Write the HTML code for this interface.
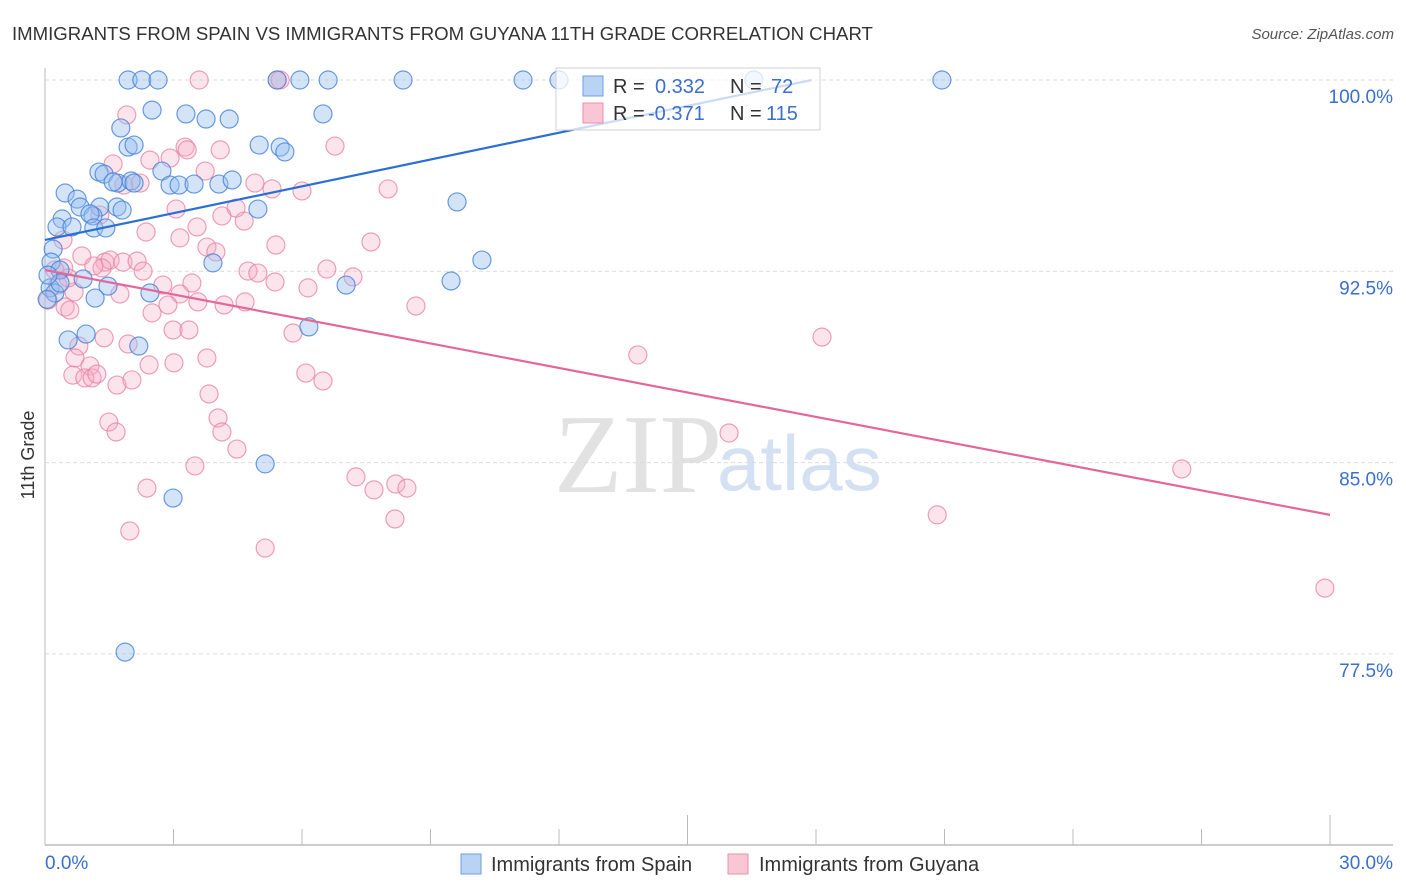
<!DOCTYPE html>
<html><head><meta charset="utf-8"><style>
body{margin:0;background:#fff;font-family:"Liberation Sans",sans-serif}
#wrap{position:relative;width:1406px;height:892px;overflow:hidden}
</style></head><body>
<div id="wrap">
<svg id="svg" width="1406" height="892" xmlns="http://www.w3.org/2000/svg">
<text x="12" y="40" font-size="18.6" fill="#333">IMMIGRANTS FROM SPAIN VS IMMIGRANTS FROM GUYANA 11TH GRADE CORRELATION CHART</text>
<text x="1394" y="39" font-size="15" fill="#555" font-style="italic" text-anchor="end">Source: ZipAtlas.com</text>
<text x="554" y="492" font-size="112" fill="#e2e2e2" font-family="Liberation Serif,serif">ZIP</text>
<text x="717" y="490" font-size="78" fill="#d3e1f3">atlas</text>
<g id="grid"></g>
<g id="axes"></g>
<g id="pts"></g>
<g id="trends"></g>
<text transform="translate(34,455) rotate(-90)" font-size="18" fill="#333" text-anchor="middle">11th Grade</text>
<text x="45" y="869" font-size="19" fill="#3a6fcf">0.0%</text>
<text x="1393" y="869" font-size="19" fill="#3a6fcf" text-anchor="end">30.0%</text>
<g>
<rect x="556" y="68" width="264" height="62" fill="rgba(255,255,255,0.75)" stroke="#d0d0d0"/>
<rect x="583" y="76" width="20" height="20" fill="#b9d3f5" stroke="#6f9ce0"/>
<text x="613" y="93" font-size="20" fill="#333">R = <tspan x="655" fill="#3a6fcf">0.332</tspan><tspan x="730">N = </tspan><tspan x="771" fill="#3a6fcf">72</tspan></text>
<rect x="583" y="103" width="20" height="20" fill="#f9c6d5" stroke="#ea8fab"/>
<text x="613" y="120" font-size="20" fill="#333">R = <tspan x="648" fill="#3a6fcf">-0.371</tspan><tspan x="730">N = </tspan><tspan x="766" fill="#3a6fcf">115</tspan></text>
</g>
<g>
<rect x="461" y="854" width="20" height="20" fill="#b9d3f5" stroke="#6f9ce0"/>
<text x="491" y="871" font-size="20" fill="#333">Immigrants from Spain</text>
<rect x="728" y="854" width="20" height="20" fill="#f9c6d5" stroke="#ea8fab"/>
<text x="759" y="871" font-size="20" fill="#333">Immigrants from Guyana</text>
</g>
</svg>
</div>
<script>
const yTicks=[100,92.5,85,77.5];
const yTickLabels=["100.0%","92.5%","85.0%","77.5%"];
const xTicks=[0,3,6,9,12,15,18,21,24,27,30];
const spainX=[1.94,2.26,2.64,5.42,5.95,6.61,8.36,11.16,12.0,16.55,20.94,2.50,3.29,3.76,4.30,6.49,1.77,1.94,2.08,5.0,5.49,5.60,1.26,1.38,1.70,1.59,2.01,2.73,2.92,3.13,3.48,4.06,4.37,0.47,0.75,0.82,1.28,1.68,1.12,1.05,0.40,0.28,0.63,1.14,1.42,4.97,9.62,0.19,0.14,0.35,0.89,1.47,2.45,3.92,7.03,9.48,10.20,0.12,0.23,1.17,0.54,0.96,2.19,6.16,5.14,2.99,1.87,0.35,0.07,1.80,2.08,0.05];
const spainY=[100,100,100,100,100,100,100,100,100,100,100,98.82,98.67,98.47,98.47,98.67,98.12,97.37,97.45,97.45,97.37,97.18,96.39,96.31,95.96,96.0,96.04,96.43,95.88,95.88,95.92,95.92,96.08,95.57,95.33,95.02,95.02,95.02,94.67,94.75,94.55,94.24,94.24,94.20,94.20,94.94,95.22,93.37,92.86,92.55,92.20,91.92,91.65,92.83,91.96,92.12,92.94,91.85,91.65,91.45,89.81,90.04,89.57,90.32,84.95,83.61,77.57,92.04,92.35,94.90,95.96,91.4];
const guyanaX=[3.60,5.42,5.49,1.91,1.59,2.45,2.92,3.27,3.32,4.09,3.74,6.77,2.22,1.84,4.90,5.30,6.0,8.01,3.06,4.46,4.13,1.28,4.65,2.36,3.55,0.42,3.15,5.39,7.61,3.78,3.99,0.86,1.40,1.52,1.82,2.15,1.33,1.14,2.29,4.74,4.97,6.58,7.19,0.44,0.23,2.75,3.43,5.37,6.14,0.68,1.75,3.15,0.47,0.58,2.50,2.87,3.57,4.18,4.67,8.66,2.99,3.36,5.79,1.38,0.79,1.94,0.70,1.05,2.43,3.01,3.78,0.65,0.93,1.10,1.21,1.68,2.03,3.83,6.09,6.49,13.84,18.14,4.04,4.13,1.49,1.66,4.48,3.50,2.38,7.26,7.68,8.19,8.45,15.97,26.54,8.17,20.83,1.98,5.14,29.88,0.07,0.30,0.54];
const guyanaY=[100,100,100,98.63,96.71,96.86,96.94,97.37,97.26,97.26,96.43,97.41,95.96,95.88,95.96,95.73,95.65,95.73,94.94,94.98,94.67,94.71,94.47,94.04,94.24,93.73,93.81,93.53,93.65,93.45,93.26,93.10,92.86,92.94,92.86,92.90,92.63,92.71,92.51,92.51,92.43,92.59,92.28,92.63,92.55,91.96,92.04,92.08,91.85,91.69,91.61,91.61,91.10,90.98,90.87,91.18,91.30,91.18,91.30,91.14,90.20,90.20,90.08,89.89,89.57,89.65,89.10,88.79,88.83,88.91,89.10,88.43,88.32,88.32,88.47,88.04,88.24,87.69,88.51,88.20,89.22,89.92,86.75,86.20,86.59,86.20,85.53,84.87,84.0,84.44,83.93,84.16,84.0,86.16,84.75,82.79,82.95,82.32,81.65,80.08,91.37,91.96,92.24];
const spainTrendX=[0,17.9];
const spainTrendY=[93.73,100];
const guyanaTrendX=[0,30];
const guyanaTrendY=[92.55,82.95];

const NS="http://www.w3.org/2000/svg";
const X0=45,X1=1330,Y100=80,PX_PER=191.3/7.5;
function sx(v){return X0+(v/30)*(X1-X0);}
function sy(v){return Y100+(100-v)*PX_PER;}
function mk(tag,attrs,parent){const e=document.createElementNS(NS,tag);for(const k in attrs)e.setAttribute(k,attrs[k]);document.getElementById(parent).appendChild(e);return e;}

yTicks.forEach((t,i)=>{
  const l=mk('line',{x1:X0,x2:1393,y1:sy(t),y2:sy(t),stroke:'#dcdcdc','stroke-dasharray':'4,3'},'grid');
  
  
  const tx=mk('text',{x:1393,y:sy(t)+23,'font-size':19,fill:'#3a6fcf','text-anchor':'end'},'grid');
  tx.textContent=yTickLabels[i];
  
  
});
const ya=mk('line',{x1:X0,x2:X0,y1:68,y2:845,stroke:'#bbb'},'axes');


const xa=mk('line',{x1:X0,x2:1393,y1:845,y2:845,stroke:'#bbb','stroke-width':1.5},'axes');


xTicks.forEach(t=>{
  const tall=(t===15||t===30);
  const l=mk('line',{x1:sx(t),x2:sx(t),y1:845,y2:tall?815:829,stroke:'#bbb'},'axes');
  
  
});
function drawPts(xs,ys,fill,stroke,name){
  xs.forEach((v,i)=>{
    const c=mk('circle',{cx:sx(v),cy:sy(ys[i]),r:9,fill:fill,stroke:stroke,'stroke-width':1.2},'pts');
    
    
  });
}
drawPts(guyanaX,guyanaY,'rgba(246,172,196,0.32)','rgba(232,128,160,0.75)','point-guyana');
drawPts(spainX,spainY,'rgba(150,190,240,0.42)','rgba(70,130,215,0.8)','point-spain');
const t1=mk('line',{x1:sx(spainTrendX[0]),y1:sy(spainTrendY[0]),x2:sx(spainTrendX[1]),y2:sy(spainTrendY[1]),stroke:'#2a6fd6','stroke-width':2.2},'trends');


const t2=mk('line',{x1:sx(guyanaTrendX[0]),y1:sy(guyanaTrendY[0]),x2:sx(guyanaTrendX[1]),y2:sy(guyanaTrendY[1]),stroke:'#e4679a','stroke-width':2.2},'trends');


</script>
</body></html>
